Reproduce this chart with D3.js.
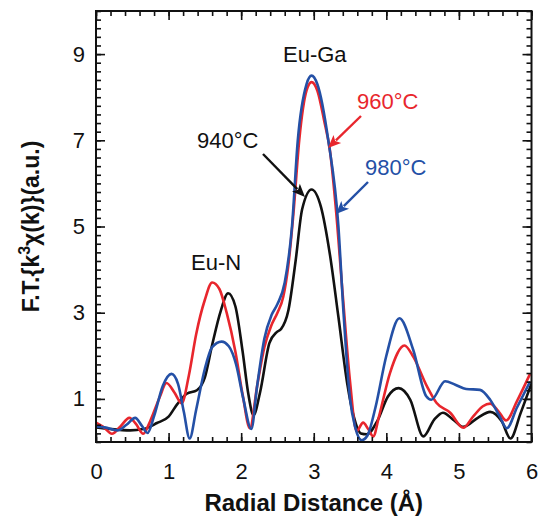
<!DOCTYPE html>
<html><head><meta charset="utf-8">
<script src="https://cdn.jsdelivr.net/npm/d3@7"></script>
<style>body{margin:0;background:#fff}svg{display:block}</style>
</head><body>
<svg id="chart" width="539" height="518"></svg>
<script>
// ---- data ----
const xTicks = [0,1,2,3,4,5,6];
const yTicks = [1,3,5,7,9];

const x940 = [0,0.2,0.47,0.65,0.84,1.0,1.12,1.25,1.39,1.5,1.6,1.72,1.82,1.92,2.02,2.1,2.17,2.26,2.39,2.49,2.55,2.65,2.75,2.84,2.97,3.1,3.22,3.34,3.46,3.55,3.65,3.73,3.88,4.02,4.17,4.33,4.51,4.66,4.78,4.92,5.06,5.26,5.43,5.59,5.71,5.85,6.0];
const y940 = [0.34,0.3,0.27,0.3,0.44,0.59,0.88,1.12,1.2,1.5,2.25,3.05,3.45,3.15,2.1,1.1,0.62,1.15,2.3,2.55,2.62,3.05,4.2,5.4,5.86,5.45,4.38,2.9,1.37,0.6,0.2,0.18,0.5,1.05,1.25,0.98,0.13,0.52,0.68,0.52,0.35,0.56,0.7,0.48,0.08,0.67,1.36];

const x960 = [0,0.1,0.22,0.33,0.46,0.55,0.65,0.75,0.88,0.97,1.08,1.18,1.28,1.38,1.5,1.6,1.7,1.8,1.92,2.02,2.12,2.22,2.32,2.41,2.5,2.58,2.65,2.72,2.8,2.9,2.97,3.05,3.15,3.22,3.3,3.4,3.5,3.59,3.68,3.75,3.82,3.9,4.05,4.25,4.37,4.56,4.69,4.88,5.06,5.2,5.33,5.43,5.55,5.65,5.8,5.98];
const y960 = [0.45,0.35,0.19,0.35,0.56,0.42,0.19,0.5,1.05,1.37,1.15,0.9,1.55,2.5,3.3,3.7,3.55,3.0,2.1,1.1,0.32,1.3,2.2,2.68,3.0,3.37,4.1,5.3,7.0,8.15,8.35,8.15,7.4,6.8,5.5,3.4,1.4,0.25,0.45,0.3,0.13,0.6,1.6,2.24,1.98,1.29,0.91,0.68,0.33,0.6,0.83,0.89,0.7,0.5,0.95,1.58];

const x980 = [0,0.12,0.3,0.42,0.54,0.63,0.71,0.8,0.92,1.04,1.13,1.21,1.29,1.38,1.5,1.6,1.73,1.83,1.93,2.03,2.14,2.22,2.32,2.42,2.5,2.6,2.7,2.78,2.9,2.97,3.05,3.2,3.34,3.41,3.5,3.57,3.66,3.74,3.85,4.0,4.18,4.37,4.55,4.62,4.81,4.95,5.1,5.29,5.43,5.56,5.66,5.8,5.98];
const y980 = [0.36,0.34,0.27,0.4,0.56,0.38,0.21,0.6,1.3,1.58,1.35,0.7,0.08,0.75,1.7,2.2,2.33,2.22,1.8,1.0,0.3,1.3,2.4,2.95,3.2,3.7,5.0,7.0,8.3,8.5,8.3,7.0,5.0,3.0,1.0,0.35,0.04,0.15,0.8,2.0,2.87,2.14,1.06,0.98,1.41,1.33,1.23,1.21,0.98,0.6,0.32,0.8,1.4];

const seriesNames = ["940°C","960°C","980°C"];
const seriesColors = ["#111111","#e8262d","#2450a6"];

// ---- drawing ----
const W = 539, H = 518;
const L = 96, R = 531.5, T = 11, B = 442;
const svg = d3.select("#chart");
const x = d3.scaleLinear().domain([0,6]).range([L,R]);
const y = d3.scaleLinear().domain([0,10]).range([B,T]);
const font = "Liberation Sans, Arial, Helvetica, sans-serif";

svg.append("defs").append("clipPath").attr("id","clip")
  .append("rect").attr("x",L).attr("y",T).attr("width",R-L).attr("height",B-T);

const series = [
  {xs:x940, ys:y940},
  {xs:x960, ys:y960},
  {xs:x980, ys:y980}
];
const line = d3.line().x(d=>x(d[0])).y(d=>y(d[1])).curve(d3.curveMonotoneX);
const g = svg.append("g").attr("clip-path","url(#clip)");
series.forEach((s,i)=>{
  const pts = s.xs.map((v,j)=>[v,s.ys[j]]);
  g.append("path").attr("d",line(pts)).attr("fill","none")
    .attr("stroke",seriesColors[i]).attr("stroke-width",2.6).attr("stroke-linejoin","round");
});

// axes with inward ticks on all four sides
const xMinor = d3.range(0,6.0001,0.2);
const yMinor = d3.range(0,10.0001,0.2);
function addAxis(axisGen, tx, ty){
  const a = svg.append("g").attr("transform",`translate(${tx},${ty})`).call(axisGen);
  a.select(".domain").remove();
  a.selectAll("line").attr("stroke","#111").attr("stroke-width",1.6);
  return a;
}
// minor
addAxis(d3.axisTop(x).tickValues(xMinor).tickSize(5).tickFormat(""),0,B);
addAxis(d3.axisBottom(x).tickValues(xMinor).tickSize(5).tickFormat(""),0,T);
addAxis(d3.axisRight(y).tickValues(yMinor).tickSize(5).tickFormat(""),L,0);
addAxis(d3.axisLeft(y).tickValues(yMinor).tickSize(5).tickFormat(""),R,0);
// major
const xb = addAxis(d3.axisTop(x).tickValues(xTicks).tickSize(9).tickFormat(""),0,B);
addAxis(d3.axisBottom(x).tickValues(xTicks).tickSize(9).tickFormat(""),0,T);
addAxis(d3.axisRight(y).tickValues(yTicks).tickSize(9).tickFormat(""),L,0);
addAxis(d3.axisLeft(y).tickValues(yTicks).tickSize(9).tickFormat(""),R,0);

// tick labels
const xl = svg.append("g").call(d3.axisBottom(x).tickValues(xTicks).tickSize(0).tickPadding(0).tickFormat(d3.format("d")))
  .attr("transform",`translate(0,${B+21})`);
xl.select(".domain").remove();
xl.selectAll("text").attr("font-family",font).attr("font-size",22).attr("fill","#111");
const yl = svg.append("g").call(d3.axisLeft(y).tickValues(yTicks).tickSize(0).tickPadding(0).tickFormat(d3.format("d")))
  .attr("transform",`translate(${L-11},0)`);
yl.select(".domain").remove();
yl.selectAll("text").attr("font-family",font).attr("font-size",22).attr("fill","#111");

// frame
svg.append("rect").attr("x",L).attr("y",T).attr("width",R-L).attr("height",B-T)
  .attr("fill","none").attr("stroke","#111").attr("stroke-width",2);

// axis titles
svg.append("text").attr("x",(L+R)/2).attr("y",511).attr("text-anchor","middle")
  .attr("font-family",font).attr("font-weight","bold").attr("font-size",24).attr("fill","#111")
  .text("Radial Distance (Å)");
const yt = svg.append("text").attr("transform",`translate(39,${(T+B)/2}) rotate(-90)`)
  .attr("text-anchor","middle").attr("font-family",font).attr("font-weight","bold")
  .attr("font-size",23).attr("fill","#111");
yt.append("tspan").text("F.T.{k");
yt.append("tspan").attr("dy",-9).attr("font-size",16).text("3");
yt.append("tspan").attr("dy",9).text("χ(k)}(a.u.)");

// annotations
function label(t,px,py,col){
  svg.append("text").attr("x",px).attr("y",py).attr("font-family",font).attr("font-size",22)
    .attr("fill",col).text(t);
}
label("Eu-Ga",283,62,"#111");
label("Eu-N",191,270,"#111");
label(seriesNames[0],197,148,seriesColors[0]);
label(seriesNames[1],357,109,seriesColors[1]);
label(seriesNames[2],365,175,seriesColors[2]);

function arrow(x1,y1,x2,y2,col){
  const ang = Math.atan2(y2-y1,x2-x1);
  const len = 13, hw = 5.5;
  const bx = x2-len*Math.cos(ang), by = y2-len*Math.sin(ang);
  svg.append("line").attr("x1",x1).attr("y1",y1).attr("x2",bx+2*Math.cos(ang)).attr("y2",by+2*Math.sin(ang))
    .attr("stroke",col).attr("stroke-width",2.4);
  const px = -Math.sin(ang), py = Math.cos(ang);
  svg.append("path").attr("d",`M${x2},${y2}L${bx+hw*px},${by+hw*py}L${bx+3*Math.cos(ang)},${by+3*Math.sin(ang)}L${bx-hw*px},${by-hw*py}Z`)
    .attr("fill",col);
}
arrow(263,154,305,197,seriesColors[0]);
arrow(361,116,328,148,seriesColors[1]);
arrow(368,182,336,214,seriesColors[2]);
</script>
</body></html>
